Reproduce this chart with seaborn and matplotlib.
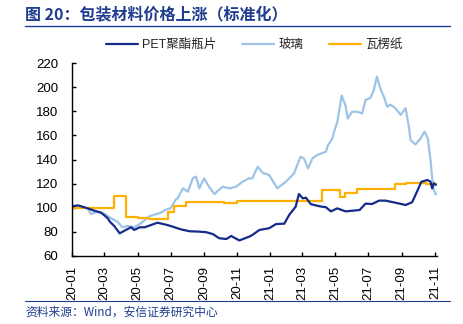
import matplotlib
matplotlib.use("Agg")
import matplotlib.pyplot as plt
import seaborn as sns
import pandas as pd

# ---------------- data ----------------
pet_dates = ["2020-01-01","2020-01-12","2020-01-30","2020-02-11","2020-02-24","2020-03-07",
             "2020-03-11","2020-03-19","2020-03-29","2020-04-07","2020-04-19","2020-04-25",
             "2020-05-05","2020-05-14","2020-06-07","2020-06-25","2020-07-05","2020-07-20",
             "2020-08-05","2020-08-23","2020-09-05","2020-09-17","2020-09-29","2020-10-12",
             "2020-10-21","2020-11-05","2020-11-23","2020-11-29","2020-12-12","2020-12-30",
             "2021-01-12","2021-01-27","2021-02-05","2021-02-17","2021-02-23","2021-03-02",
             "2021-03-08","2021-03-17","2021-04-01","2021-04-14","2021-04-23","2021-05-05",
             "2021-05-20","2021-06-15","2021-06-26","2021-07-08","2021-07-21","2021-08-02",
             "2021-08-20","2021-09-08","2021-09-20","2021-09-29","2021-10-07","2021-10-18",
             "2021-10-24","2021-10-27","2021-10-30","2021-11-03"]
pet_values = [101, 102, 99.5, 97.6, 95.9, 91.3,
              88.4, 84.9, 78.8, 81, 83.8, 81.6,
              83.8, 83.8, 87.6, 85.7, 84.3, 82.1,
              80.5, 80.2, 79.7, 78.2, 74.7, 74.1,
              76.6, 72.9, 76, 77.4, 81.6, 83,
              86.5, 86.8, 94, 100.9, 111.4, 107.8,
              108.3, 103, 101.3, 100.4, 97, 99.5,
              97, 98.1, 103.4, 103.1, 105.9, 105.9,
              104.2, 102.3, 104.5, 113.3, 121.5, 123,
              121.6, 116, 120.3, 119]

glass_dates = ["2020-01-01","2020-01-18","2020-01-30","2020-02-05","2020-02-17","2020-03-01",
               "2020-03-13","2020-03-17","2020-03-25","2020-04-03","2020-04-13","2020-04-25",
               "2020-05-07","2020-05-23","2020-06-13","2020-06-23","2020-07-01","2020-07-11",
               "2020-07-14","2020-07-24","2020-08-02","2020-08-11","2020-08-17","2020-08-23",
               "2020-09-01","2020-09-10","2020-09-20","2020-10-05","2020-10-18","2020-10-30",
               "2020-11-11","2020-11-23","2020-11-29","2020-12-09","2020-12-18","2020-12-30",
               "2021-01-14","2021-01-30","2021-02-14","2021-02-26","2021-03-04","2021-03-12",
               "2021-03-20","2021-03-29","2021-04-14","2021-04-17","2021-04-26","2021-04-29",
               "2021-05-05","2021-05-13","2021-05-20","2021-05-24","2021-06-01","2021-06-11",
               "2021-06-20","2021-06-26","2021-07-05","2021-07-11","2021-07-17","2021-07-24",
               "2021-07-30","2021-08-05","2021-08-11","2021-08-20","2021-08-30","2021-09-08",
               "2021-09-14","2021-09-17","2021-09-26","2021-10-06","2021-10-13","2021-10-19",
               "2021-10-24","2021-10-27","2021-10-30","2021-11-03"]
glass_values = [102, 100.9, 99.5, 94.8, 96.7, 94.8,
                91.3, 90.4, 88.4, 83.8, 84.9, 83.8,
                87.1, 93, 95.9, 98.5, 99.5, 107,
                107.8, 116.1, 113.3, 124.4, 125.8, 116.1,
                124.4, 117.4, 111.4, 117.4, 116.1, 117.4,
                121.6, 124.4, 124.4, 134, 129, 127.2,
                116.1, 121.6, 128.5, 142.3, 141, 132.7,
                141, 143.7, 146.5, 151.2, 157.6, 163.1,
                171.4, 193, 184.8, 174, 179.6, 179.6,
                178.2, 189.4, 191, 197, 208.7, 198,
                192, 183.8, 185.5, 182.6, 177, 182.6,
                167.2, 156.2, 152.5, 157.6, 163.2, 157.6,
                139.6, 125, 115, 111]

paper_dates = ["2020-01-01","2020-03-19","2020-04-10","2020-05-01","2020-05-23","2020-06-27",
               "2020-07-07","2020-07-29","2020-10-08","2020-11-01","2021-04-07","2021-05-09",
               "2021-05-19","2021-06-10","2021-08-19","2021-09-08","2021-10-15","2021-11-04"]
paper_values = [100, 110, 92.6, 91.3, 90.7, 96.7,
                101.5, 104.8, 103.7, 105.8, 115, 109.2,
                112, 115.8, 119.7, 120.8, 119.7, 119.7]

series_names = ["PET聚酯瓶片", "玻璃", "瓦楞纸"]
tick_months = ["2020-01-01","2020-03-01","2020-05-01","2020-07-01","2020-09-01","2020-11-01",
               "2021-01-01","2021-03-01","2021-05-01","2021-07-01","2021-09-01","2021-11-01"]
tick_labels = ["20-01","20-03","20-05","20-07","20-09","20-11",
               "21-01","21-03","21-05","21-07","21-09","21-11"]
y_ticks = [60, 80, 100, 120, 140, 160, 180, 200, 220]

title_text = "图 20：包装材料价格上涨（标准化）"
source_text = "资料来源：Wind，安信证券研究中心"

# ---------------- style ----------------
sns.set_style("ticks")
plt.rcParams['font.family'] = ['Liberation Sans', 'Noto Sans CJK SC', 'DejaVu Sans']
plt.rcParams['axes.unicode_minus'] = False

c_pet = "#142B8C"
c_glass = "#9DC3E6"
c_paper = "#FFB000"
c_title = "#1F3C8F"

fig = plt.figure(figsize=(4.64, 3.24), dpi=100)
ax = fig.add_axes([72/464, 1-256/324, (437-72)/464, (256-63)/324])

df_pet = pd.DataFrame({"date": pd.to_datetime(pet_dates), "v": pet_values})
df_glass = pd.DataFrame({"date": pd.to_datetime(glass_dates), "v": glass_values})
df_paper = pd.DataFrame({"date": pd.to_datetime(paper_dates), "v": paper_values})

sns.lineplot(data=df_glass, x="date", y="v", ax=ax, color=c_glass, lw=1.6, label=series_names[1])
sns.lineplot(data=df_paper, x="date", y="v", ax=ax, color=c_paper, lw=1.6,
             drawstyle="steps-post", label=series_names[2])
sns.lineplot(data=df_pet, x="date", y="v", ax=ax, color=c_pet, lw=1.6, label=series_names[0])

ax.set_xlim(pd.Timestamp("2020-01-01"), pd.Timestamp("2021-11-05"))
ax.set_ylim(60, 220)
ax.set_yticks(y_ticks)
ax.set_xticks(pd.to_datetime(tick_months))
ax.set_xticklabels(tick_labels, rotation=90)
ax.set_xlabel("")
ax.set_ylabel("")
for s in ["top", "right"]:
    ax.spines[s].set_visible(False)
for s in ["left", "bottom"]:
    ax.spines[s].set_color("black")
    ax.spines[s].set_linewidth(1.0)
ax.tick_params(axis="y", direction="in", length=3, width=1, pad=10, labelsize=9.5, colors="black")
ax.tick_params(axis="x", direction="in", length=3, width=1, pad=7, labelsize=9.5, colors="black")

# legend in figure order
handles, labels = ax.get_legend_handles_labels()
order = [labels.index(n) for n in series_names]
ax.get_legend().remove()
fig.legend([handles[i] for i in order], [labels[i] for i in order],
           loc="center", bbox_to_anchor=(0.548, 1-45/324), ncol=3, frameon=False,
           handlelength=2.6, handletextpad=0.35, columnspacing=2.0,
           prop={'family': ['Liberation Sans', 'Noto Sans CJK SC'], 'size': 9})

# title, rules, source
fig.text(25/464, 1-15/324, title_text, color=c_title, fontsize=11.5, fontweight="bold",
         va="center", ha="left", family=['Noto Sans CJK SC', 'DejaVu Sans'])
fig.add_artist(plt.Line2D([25/464, 450/464], [1-26/324, 1-26/324], color=c_title, lw=1.0))
fig.add_artist(plt.Line2D([25/464, 450/464], [1-301/324, 1-301/324], color=c_title, lw=0.8))
fig.text(25/464, 1-312/324, source_text, color=c_title, fontsize=8.5, style="italic",
         va="center", ha="left", family=['Noto Sans CJK SC', 'DejaVu Sans'])

fig.savefig("out.png", dpi=100)
